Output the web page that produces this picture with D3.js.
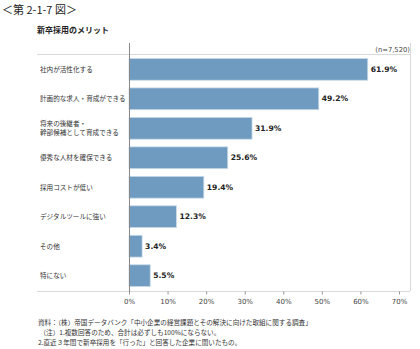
<!DOCTYPE html>
<html>
<head>
<meta charset="utf-8">
<script src="https://cdn.jsdelivr.net/npm/d3@7"></script>
<style>
  html, body { margin: 0; padding: 0; background: #fff; }
  svg { display: block; }
</style>
</head>
<body>
<svg id="chart" width="420" height="349"></svg>
<script>
// Benefits of new-graduate hiring (multiple answers, %)
const categories = [
  ["社内が活性化する"],
  ["計画的な求人・育成ができる"],
  ["将来の後継者・", "幹部候補として育成できる"],
  ["優秀な人材を確保できる"],
  ["採用コストが低い"],
  ["デジタルツールに強い"],
  ["その他"],
  ["特にない"]
];
const values = [61.9, 49.2, 31.9, 25.6, 19.4, 12.3, 3.4, 5.5];
const tickValues = [0, 10, 20, 30, 40, 50, 60, 70];
const notes = [
  "資料：（株）帝国データバンク「中小企業の経営課題とその解決に向けた取組に関する調査」",
  " （注）1.複数回答のため、合計は必ずしも100%にならない。",
  "2.直近３年間で新卒採用を「行った」と回答した企業に聞いたもの。"
];

const jp = "'Noto Sans CJK JP', 'Noto Sans', sans-serif";
const num = "'DejaVu Sans', Verdana, sans-serif";
const svg = d3.select("#chart");

const plot = { left: 129, right: 399, top: 54, bottom: 291, frameLeft: 37, frameRight: 410 };

const x = d3.scaleLinear().domain([0, 70]).range([plot.left, plot.right]);
const y = d3.scaleBand().domain(d3.range(values.length))
  .range([plot.top, plot.bottom]).paddingInner(0.26).paddingOuter(0.15);

// Headings
svg.append("text").attr("x", 2).attr("y", 14)
  .attr("font-family", jp).attr("font-size", 11).attr("fill", "#222")
  .text("＜第 2-1-7 図＞");
svg.append("text").attr("x", 37).attr("y", 33)
  .attr("font-family", jp).attr("font-size", 8).attr("font-weight", "bold").attr("fill", "#222")
  .text("新卒採用のメリット");
svg.append("text").attr("x", 410).attr("y", 52).attr("text-anchor", "end")
  .attr("font-family", num).attr("font-size", 6.8).attr("fill", "#444")
  .text("(n=7,520)");

// Frame lines
const frame = svg.append("g").attr("stroke", "#d9d9d9").attr("stroke-width", 1);
frame.append("line").attr("x1", plot.frameLeft).attr("x2", plot.frameRight)
  .attr("y1", plot.top + 0.5).attr("y2", plot.top + 0.5);
frame.append("line").attr("x1", plot.frameLeft).attr("x2", plot.frameRight)
  .attr("y1", plot.bottom + 0.5).attr("y2", plot.bottom + 0.5);
frame.append("line").attr("x1", plot.frameRight + 0.5).attr("x2", plot.frameRight + 0.5)
  .attr("y1", 43).attr("y2", plot.bottom);

// Bars
svg.append("g").selectAll("rect").data(values).join("rect")
  .attr("x", x(0))
  .attr("y", (d, i) => y(i))
  .attr("width", d => x(d) - x(0))
  .attr("height", y.bandwidth())
  .attr("fill", "#6e9bbf")
  .attr("stroke", "#c9dbe9")
  .attr("stroke-width", 0.8);

// Value labels
svg.append("g").selectAll("text").data(values).join("text")
  .attr("x", d => x(d) + 3)
  .attr("y", (d, i) => y(i) + y.bandwidth() / 2)
  .attr("dy", "0.35em")
  .attr("font-family", num).attr("font-size", 7.6).attr("font-weight", "bold").attr("fill", "#222")
  .text(d => d.toFixed(1) + "%");

// Category labels (multi-line labels are centred on their bar)
const lineGap = 9.5;
const cat = svg.append("g").selectAll("text").data(categories).join("text")
  .attr("font-family", jp).attr("font-size", 6.6).attr("fill", "#333");
cat.each(function(lines, i) {
  const t = d3.select(this);
  const cy = y(i) + y.bandwidth() / 2 - (lines.length - 1) * lineGap / 2;
  lines.forEach((line, k) => {
    t.append("tspan").attr("x", 40)
      .attr("y", cy + k * lineGap)
      .attr("dy", "0.35em")
      .text(line);
  });
});

// Bottom axis
const axis = svg.append("g").attr("transform", `translate(0,${plot.bottom + 0.5})`)
  .call(d3.axisBottom(x).tickValues(tickValues).tickFormat(d => d + "%").tickSize(3).tickPadding(5));
axis.select(".domain").remove();
axis.selectAll("line").attr("stroke", "#999");
axis.selectAll("text").attr("font-family", num).attr("font-size", 7).attr("fill", "#444");

// Vertical category axis line
svg.append("line").attr("x1", plot.left + 0.5).attr("x2", plot.left + 0.5)
  .attr("y1", 43).attr("y2", plot.bottom + 1)
  .attr("stroke", "#888").attr("stroke-width", 1);

// Notes
svg.append("g").selectAll("text").data(notes).join("text")
  .attr("x", 38)
  .attr("y", (d, i) => 325 + i * 10)
  .attr("font-family", jp).attr("font-size", 6.6).attr("fill", "#333")
  .attr("xml:space", "preserve")
  .text(d => d);
</script>
</body>
</html>
